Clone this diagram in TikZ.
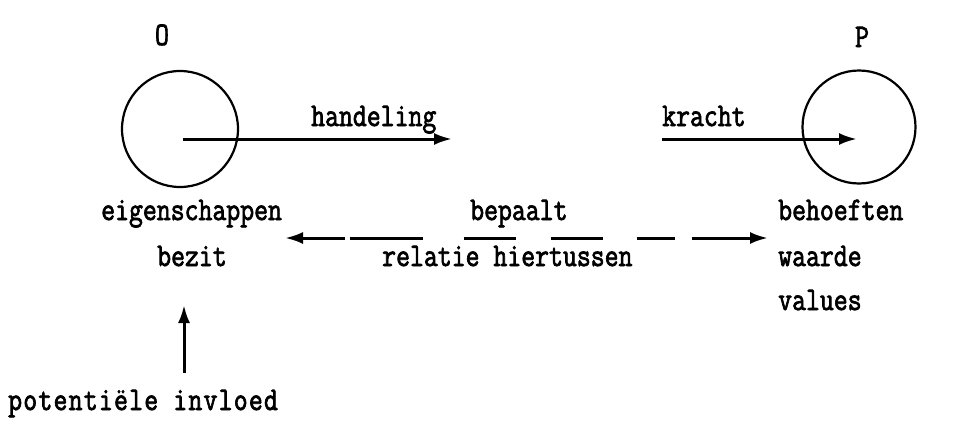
\documentclass[tikz,border=0pt]{standalone}
\usepackage{fontspec}
\setmonofont[FakeBold=2.4]{Latin Modern Mono}
\usetikzlibrary{arrows.meta}
% typewriter lettering, a little taller than the plain face
\newcommand{\typed}[1]{\scalebox{1}[1.22]{#1}}
\tikzset{
  lbl/.style={anchor=base west, inner sep=0pt, font=\ttfamily\fontsize{27}{31}\selectfont},
  party/.style={circle, draw, line width=2.2pt, inner sep=0pt},
  tip/.tip={Latex[length=18pt,width=12pt]},
  link/.style={line width=3pt, -tip},
  dlink/.style={line width=3pt, tip-tip,
    dash pattern=on 43pt off 5pt on 73pt off 41pt on 52pt off 35pt on 52pt off 34pt on 38pt off 17pt on 80pt}
}
\begin{document}
\begin{tikzpicture}[x=1pt, y=-1pt]
  \useasboundingbox (0,0) rectangle (953,423);

  % the two parties
  \node[lbl, anchor=base] (Olbl) at (162,45) {\typed{O}};
  \node[lbl, anchor=base] (Plbl) at (862,47) {\typed{P}};
  \node[party, minimum size=116pt] (O) at (180,129) {};
  \node[party, minimum size=113pt] (P) at (859,127) {};

  % action and force
  \coordinate (ostart) at (183,139);
  \coordinate (hend) at (452,139);
  \coordinate (kstart) at (662,139);
  \coordinate (pend) at (857,139);
  \draw[link] (ostart) -- (hend);
  \draw[link] (kstart) -- (pend);
  \node[lbl] (hand) at (311,126) {\typed{handeling}};
  \node[lbl] (kracht) at (662,126) {\typed{kracht}};

  % properties and needs
  \node[lbl] (eig) at (101,220) {\typed{eigenschappen}};
  \node[lbl] (bez) at (157,266) {\typed{bezit}};
  \node[lbl] (bep) at (470,220) {\typed{bepaalt}};
  \node[lbl] (rel) at (382,266) {\typed{relatie hiertussen}};
  \node[lbl] (beh) at (778,220) {\typed{behoeften}};
  \node[lbl] (waa) at (778,266) {\typed{waarde}};
  \node[lbl] (val) at (778,310) {\typed{values}};

  \coordinate (dl) at (285,238);
  \coordinate (dr) at (768,238);
  \draw[dlink] (dl) -- (dr);

  % potential influence
  \node[lbl, font=\ttfamily\fontsize{27}{31}\selectfont\addfontfeature{LetterSpace=4.5}] (pot) at (8,410) {\typed{potentiële invloed}};
  \coordinate (ub) at (184,373);
  \coordinate (ut) at (184,305);
  \draw[link] (ub) -- (ut);
\end{tikzpicture}
\end{document}
